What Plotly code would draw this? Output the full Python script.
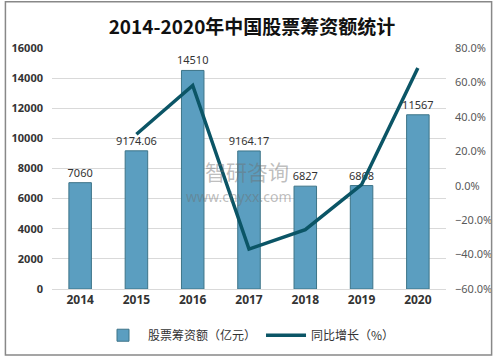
import plotly.graph_objects as go

years = ["2014", "2015", "2016", "2017", "2018", "2019", "2020"]
amount = [7060, 9174.06, 14510, 9164.17, 6827, 6868, 11567]
amount_labels = ["7060", "9174.06", "14510", "9164.17", "6827", "6868", "11567"]
growth_years = ["2015", "2016", "2017", "2018", "2019", "2020"]
growth = [29.9, 58.2, -36.8, -25.5, 0.6, 68.4]

W, H = 504, 362
ML, MR, MT, MB = 49, 49, 48, 69

fig = go.Figure()
fig.add_trace(go.Bar(
    x=years, y=amount, name="股票筹资额（亿元）",
    text=amount_labels, textposition="outside", cliponaxis=False,
    constraintext="none",
    textfont=dict(size=11, color="#333333", family="Noto Sans, Noto Sans CJK SC"),
    marker=dict(color="#5b9ec0", line=dict(color="#3d7488", width=1)),
    width=0.4,
))
fig.add_trace(go.Scatter(
    x=growth_years, y=growth, name="同比增长（%）", yaxis="y2",
    mode="lines", line=dict(color="#0b5566", width=3.5),
))

pw = W - ML - MR
ph = H - MT - MB
def px(x):
    return (x - ML) / pw
def py(y):
    return (H - MB - y) / ph

fig.update_layout(
    width=W, height=H,
    margin=dict(l=ML, r=MR, t=MT, b=MB),
    paper_bgcolor="white", plot_bgcolor="white",
    font=dict(family="Noto Sans CJK SC", color="#333333"),
    title=dict(text="<b>2014-2020年中国股票筹资额统计</b>", x=0.5, xanchor="center",
               y=1 - 27 / H, yanchor="middle",
               font=dict(size=19, color="#111111", family="Noto Sans CJK SC")),
    showlegend=True,
    legend=dict(orientation="h", x=0.5, xanchor="center", y=py(340), yanchor="middle",
                font=dict(size=12, color="#333333"), itemwidth=40),
    xaxis=dict(showgrid=False, showline=True, linecolor="#d9d9d9", ticks="",
               tickfont=dict(size=12, color="#333333", family="Noto Sans"),
               tickprefix="<b>", ticksuffix="</b>"),
    yaxis=dict(range=[0, 16000], dtick=2000, tickformat="d", showgrid=True, gridcolor="#d9d9d9",
               zeroline=False, ticks="", ticklabelstandoff=8,
               tickfont=dict(size=11, color="#333333", family="Noto Sans"),
               tickprefix="<b>", ticksuffix="</b>"),
    yaxis2=dict(range=[-60, 80], dtick=20, overlaying="y", side="right",
                showgrid=False, zeroline=False, ticks="", ticklabelstandoff=8,
                tickformat=".1f", ticksuffix="%",
                tickfont=dict(size=11, color="#595959", family="Noto Sans")),
    shapes=[dict(type="rect", xref="paper", yref="paper",
                 x0=px(1), x1=px(W - 2), y0=py(H - 2), y1=py(1),
                 line=dict(color="#888888", width=1.5), fillcolor="rgba(0,0,0,0)")],
    annotations=[
        dict(text="智研咨询", xref="paper", yref="paper", x=px(205), y=py(173),
             xanchor="left", yanchor="middle", showarrow=False,
             font=dict(size=21, color="rgba(110,110,110,0.45)", family="Noto Sans CJK SC")),
        dict(text="www.chyxx.com", xref="paper", yref="paper", x=px(185), y=py(199),
             xanchor="left", yanchor="middle", showarrow=False,
             font=dict(size=14, color="rgba(110,110,110,0.45)", family="Noto Sans")),
    ],
)

fig.write_html("out.html", config={"displayModeBar": False},
               post_script="document.body.style.margin='0';")
